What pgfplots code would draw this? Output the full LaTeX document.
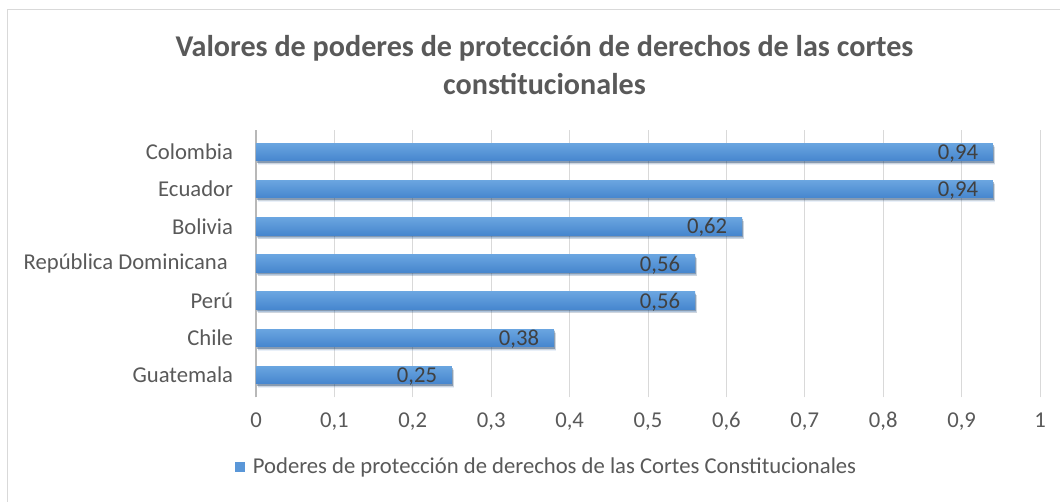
\documentclass[border=0pt]{standalone}
\usepackage{fontspec}
\setmainfont{Carlito}
\usepackage{pgfplots}
\pgfplotsset{compat=1.18}
\usetikzlibrary{shadows}
\definecolor{txt}{HTML}{595959}
\definecolor{lbl}{HTML}{404040}
\definecolor{gridc}{HTML}{D9D9D9}
\definecolor{barTop}{RGB}{106,165,224}
\definecolor{barBot}{RGB}{70,134,206}
\pgfplotsset{
  mybar/.style={xbar, bar shift=0pt, point meta=x, draw=none, top color=barTop, bottom color=barBot,
    drop shadow={shadow xshift=1.4pt, shadow yshift=-2.6pt, opacity=0.12, fill=black},
    drop shadow={shadow xshift=0.7pt, shadow yshift=-1.4pt, opacity=0.25, fill=black}, forget plot},
}
\begin{document}
\begin{tikzpicture}
\useasboundingbox (-192pt,-77.78pt) rectangle (603pt,297.98pt);
\draw[gridc, line width=0.75pt] (-186pt,-100pt) -- (-186pt,290.5pt) -- (620pt,290.5pt);
\begin{axis}[
  at={(0pt,0pt)}, anchor=south west,
  scale only axis,
  width=588pt, height=200.7pt,
  xmin=0, xmax=1, ymin=-0.6, ymax=6.6,
  axis lines=left,
  axis line style={-},
  x axis line style={draw=none},
  y axis line style={draw=gridc!85!black, line width=0.9pt},
  xtick={0,0.1,...,1.0001},
  ytick={0,...,6},
  yticklabels={Guatemala, Chile, Perú, República Dominicana\kern4pt, Bolivia, Ecuador, Colombia},
  major tick length=0pt,
  xmajorgrids,
  grid style={gridc, line width=0.75pt},
  /pgf/number format/.cd, use comma, assume math mode=true, fixed, precision=2,
  /pgfplots/.cd,
  xticklabel style={font=\fontsize{17}{20}\selectfont, text=txt, anchor=base, yshift=-22.3pt, inner sep=0pt},
  yticklabel style={font=\fontsize{17}{20}\selectfont, text=txt, anchor=east, inner sep=0pt, xshift=-17pt},
  bar width=13.2pt,
  nodes near coords,
  nodes near coords align={anchor=east},
  every node near coord/.append style={font=\fontsize{17}{20}\selectfont, text=lbl, anchor=east, xshift=-11pt, yshift=-1pt, inner sep=0pt},
  title={Valores de poderes de protección de derechos de las cortes\\constitucionales},
  title style={at={(0.368,1.212)}, anchor=center, align=center, font=\bfseries\fontsize{22.6}{29}\selectfont, text=txt},
  legend style={at={(0.371,-0.2605)}, anchor=center, draw=none, font=\fontsize{17}{20}\selectfont, text=txt, legend cell align=left, inner sep=0pt, /tikz/every odd column/.append style={column sep=4pt}},
  clip=false,
]
\addlegendimage{legend image code/.code={\pgfpathrectangle{\pgfpoint{0pt}{-3.8pt}}{\pgfpoint{7.5pt}{7.6pt}}\pgfsetfillcolor{barTop!55!barBot}\pgfusepath{fill}}}
\addlegendentry{Poderes de protección de derechos de las Cortes Constitucionales}
\addplot[mybar] coordinates {(0.25,0)};
\addplot[mybar] coordinates {(0.38,1)};
\addplot[mybar] coordinates {(0.56,2)};
\addplot[mybar] coordinates {(0.56,3)};
\addplot[mybar] coordinates {(0.62,4)};
\addplot[mybar] coordinates {(0.94,5)};
\addplot[mybar] coordinates {(0.94,6)};
\end{axis}
\end{tikzpicture}
\end{document}
